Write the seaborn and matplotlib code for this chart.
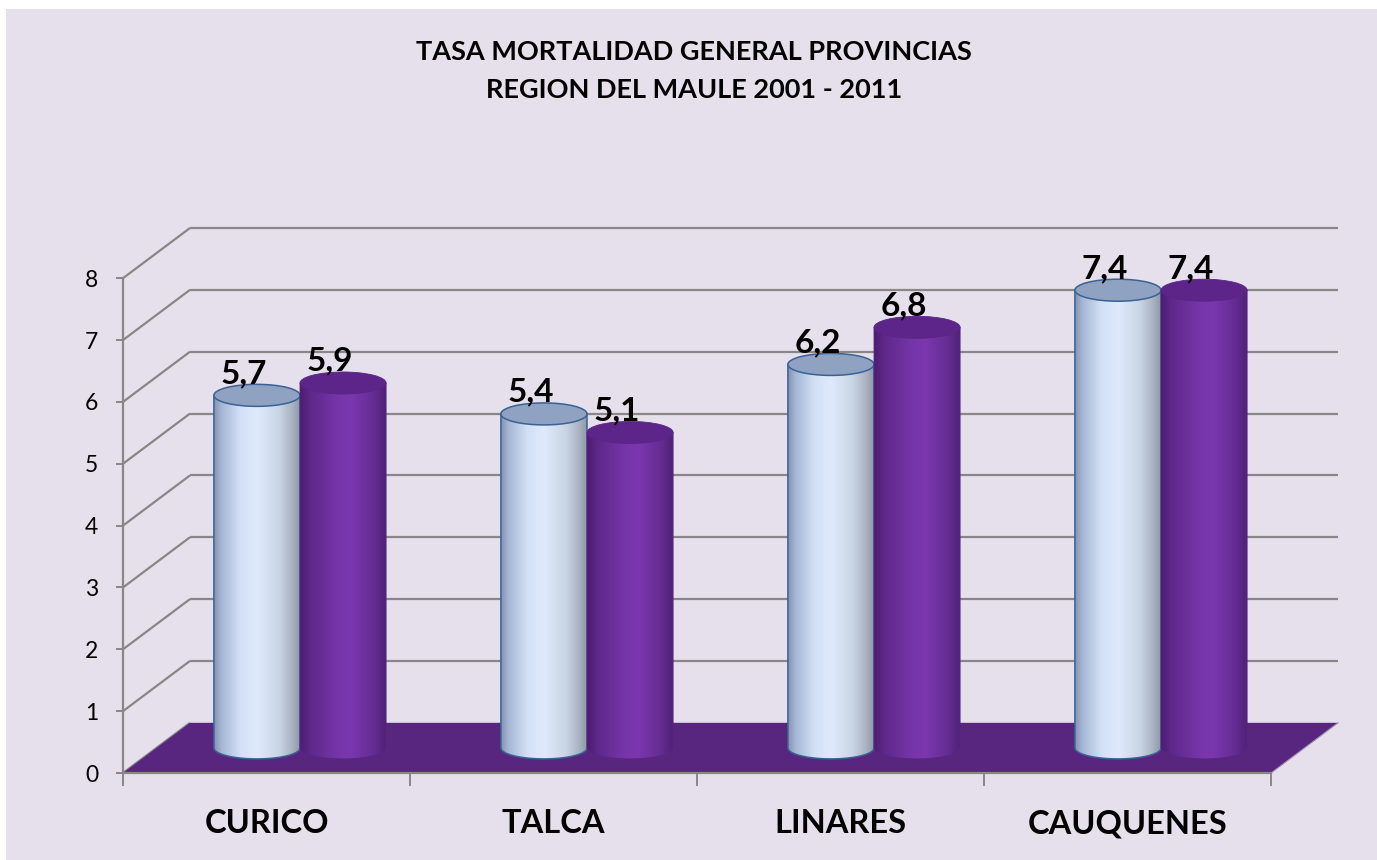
import numpy as np
import pandas as pd
import matplotlib
matplotlib.use("Agg")
import matplotlib.pyplot as plt
import seaborn as sns
from matplotlib.patches import Polygon, Ellipse, Rectangle
from matplotlib.collections import LineCollection
from matplotlib.colors import LinearSegmentedColormap, to_rgb

# ---------------- data ----------------
categories = ["CURICO", "TALCA", "LINARES", "CAUQUENES"]
series_names = ["Serie 1", "Serie 2"]
values_serie1 = [5.7, 5.4, 6.2, 7.4]
values_serie2 = [5.9, 5.1, 6.8, 7.4]
y_ticks = [0, 1, 2, 3, 4, 5, 6, 7, 8]
title_lines = ["TASA MORTALIDAD GENERAL PROVINCIAS", "REGION DEL MAULE 2001 - 2011"]

# ---------------- style ----------------
plt.rcParams['font.family'] = ['Lato', 'DejaVu Sans']
BG = '#E6E0EC'
GRID = '#878787'
FLOOR = '#58257F'
LIGHT = '#C5D6F2'
PURPLE = '#7030A0'

W, H = 1377, 860
fig = plt.figure(figsize=(W / 100, H / 100), dpi=100, facecolor='white')
fig.add_artist(Rectangle((6 / W, 0), 1, (H - 9) / H, transform=fig.transFigure,
                         facecolor=BG, edgecolor='none', zorder=-5))

ax = fig.add_axes([123 / W, (H - 773) / H, (1338 - 123) / W, (773 - 228) / H])
ax.set_facecolor('none')

df = pd.DataFrame({
    "provincia": categories * 2,
    "serie": [series_names[0]] * len(categories) + [series_names[1]] * len(categories),
    "tasa": values_serie1 + values_serie2,
})
sns.barplot(data=df, x="provincia", y="tasa", hue="serie", order=categories,
            hue_order=series_names, palette=[LIGHT, PURPLE], width=0.6, gap=0,
            legend=False, errorbar=None, ax=ax)
bars = list(ax.patches)

# depth offset (front plane / back plane) in data units
DX = 0.1167
DY = 0.4058
n = len(categories)
x_left, x_right = -0.5, n - 0.5
y_max = max(y_ticks)

# back wall gridlines
ax.hlines([t + DY for t in y_ticks[1:]], x_left + DX, x_right + DX,
          colors=GRID, lw=1.6, zorder=1, clip_on=False)
# side wall diagonals
segs = [[(x_left - DX, t - DY), (x_left + DX, t + DY)] for t in y_ticks]
ax.add_collection(LineCollection(segs, colors=GRID, lw=1.6, zorder=1, clip_on=False))
# floor
floor = Polygon([(x_left - DX, -DY), (x_right - DX, -DY), (x_right + DX, DY), (x_left + DX, DY)],
                closed=True, facecolor=FLOOR, edgecolor='none', zorder=1.8, clip_on=False)
ax.add_patch(floor)
ax.plot([x_right - DX, x_right + DX], [-DY, DY], color='#9a8aa8', lw=0.8, zorder=1.9, clip_on=False)

# cylinders
EH = 22 / 61.85
light_cmap = LinearSegmentedColormap.from_list("light", [
    (0.0, "#8393b0"), (0.08, "#a4b6d4"), (0.3, "#d2e0f6"), (0.5, "#dfeafc"),
    (0.75, "#c9d4e4"), (0.9, "#aab3c2"), (1.0, "#8c95a4")])
purple_cmap = LinearSegmentedColormap.from_list("purple", [
    (0.0, "#4c1d70"), (0.12, "#5f288a"), (0.45, "#7636aa"), (0.6, "#7a37ae"),
    (0.85, "#652c94"), (1.0, "#4f2074")])
grad_x = np.linspace(0, 1, 256)

order_idx = np.argsort([p.get_x() for p in bars])
for rank, i in enumerate(order_idx):
    p = bars[i]
    x0, w, h = p.get_x(), p.get_width(), p.get_height()
    cx = x0 + w / 2
    is_light = np.mean(to_rgb(p.get_facecolor())) > 0.6
    cmap = light_cmap if is_light else purple_cmap
    edge = '#3a6295' if is_light else '#5a2585'
    elw = 1.1 if is_light else 0.6
    top_fc = '#8fa2c1' if is_light else '#5d2589'
    z = 3 + 0.1 * rank
    t = np.linspace(np.pi, 2 * np.pi, 80)
    arc = np.column_stack([cx + w / 2 * np.cos(t), EH / 2 * np.sin(t)])
    verts = np.vstack([[x0, h], arc, [x0 + w, h]])
    body = Polygon(verts, closed=True, facecolor='none', edgecolor=edge, lw=elw, zorder=z + 0.01)
    ax.add_patch(body)
    im = ax.imshow(cmap(grad_x)[None, :, :], extent=[x0, x0 + w, -EH / 2, h],
                   aspect='auto', zorder=z, interpolation='bilinear')
    im.set_clip_path(body)
    ax.add_patch(Ellipse((cx, h), w, EH, facecolor=top_fc, edgecolor=edge, lw=elw, zorder=z + 0.02))
    p.set_visible(False)
    ax.text(cx - 0.045, h + EH / 2 + 0.02, f"{h:.1f}".replace(".", ","),
            ha='center', va='baseline', fontsize=24, fontweight='bold', color='black', zorder=10)

# limits
ax.set_xlim(x_left - DX, x_right + DX)
ax.set_ylim(-DY, y_max + DY)
ax.set_xlabel('')
ax.set_ylabel('')

# spines (front axes)
for s in ['top', 'right']:
    ax.spines[s].set_visible(False)
for s in ['left', 'bottom']:
    ax.spines[s].set_color(GRID)
    ax.spines[s].set_linewidth(1.6)
ax.spines['left'].set_bounds(-DY, y_max - DY)
ax.spines['bottom'].set_bounds(x_left - DX, x_right - DX)

# y ticks on the front plane
ax.set_yticks([t - DY for t in y_ticks], labels=[str(t) for t in y_ticks])
ax.tick_params(axis='y', length=5, width=1.4, color=GRID, pad=13, labelsize=16.5, labelcolor='black')

# x ticks: boundaries (marks) and centers (labels) on the front plane
ax.set_xticks([x_left + k - DX for k in range(n + 1)], labels=[''] * (n + 1))
ax.set_xticks([k - DX for k in range(n)], labels=categories, minor=True)
ax.tick_params(axis='x', which='major', length=9, width=1.4, color=GRID)
ax.tick_params(axis='x', which='minor', length=0, pad=26, labelsize=23.5, labelcolor='black')
for lab in ax.get_xticklabels(minor=True):
    lab.set_fontweight('bold')

# title
fig.text(694 / W, 1 - 60 / H, title_lines[0], ha='center', va='baseline',
         fontsize=19.5, fontweight='bold', color='black')
fig.text(694 / W, 1 - 98 / H, title_lines[1], ha='center', va='baseline',
         fontsize=19.5, fontweight='bold', color='black')

fig.savefig("out.png", dpi=100, facecolor=fig.get_facecolor())
